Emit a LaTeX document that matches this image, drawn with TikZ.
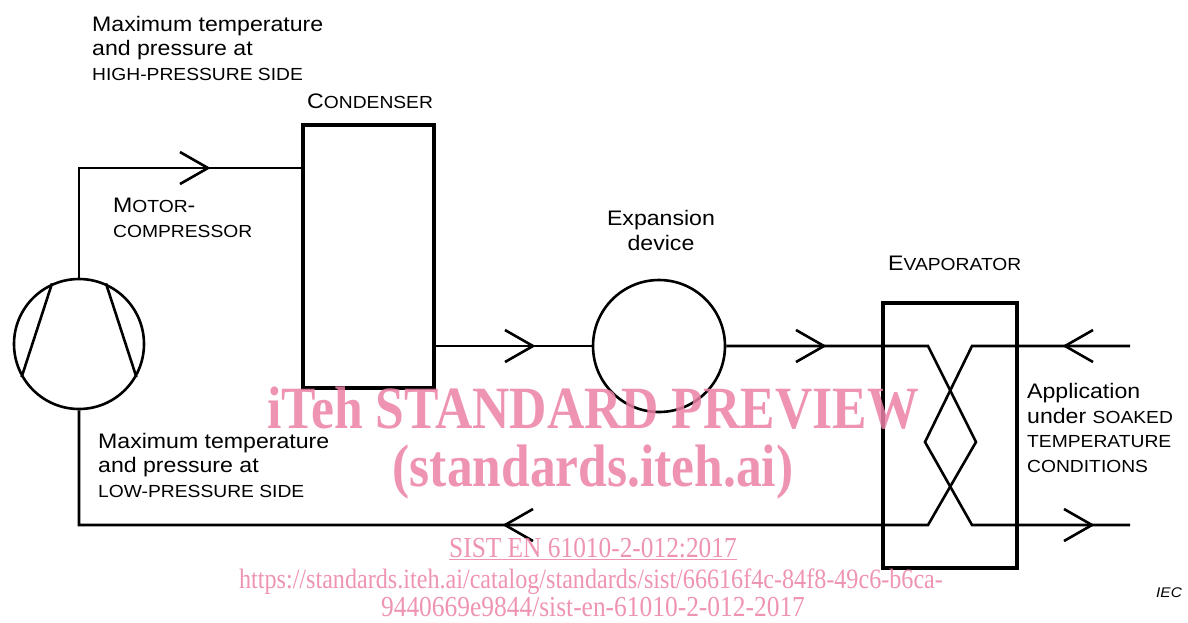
\documentclass[tikz,border=0pt]{standalone}
\usepackage{fontspec}
\setmainfont[FakeStretch=1.1]{Liberation Sans}
\newfontfamily\wmfont{Liberation Serif}
\usetikzlibrary{calc}
\definecolor{wmpink}{RGB}{236,128,166}
\newcommand\smc[1]{{\fontsize{17.5}{24.5}\selectfont #1}}
\tikzset{
  pipe/.style={line width=2.6pt, line cap=butt, line join=miter},
  thick box/.style={draw, line width=4.5pt, inner sep=0pt},
  round part/.style={draw, circle, line width=2.6pt, inner sep=0pt},
  label text/.style={anchor=base west, inner sep=0pt, align=left,
    font=\fontsize{21}{24.5}\selectfont},
  wm/.style={text=wmpink, text opacity=0.85, inner sep=0pt, anchor=base},
}
\newcommand\arrR[1]{\draw[pipe] ($(#1)+(-28,-16)$) -- (#1) -- ($(#1)+(-28,16)$);}
\newcommand\arrL[1]{\draw[pipe] ($(#1)+(28,-16)$) -- (#1) -- ($(#1)+(28,16)$);}
\begin{document}
\begin{tikzpicture}[x=1pt,y=-1pt]
\useasboundingbox (0,0) rectangle (1188,622);
% components
\node[round part, minimum size=130pt] (comp) at (79,344) {};
\node[thick box, minimum width=131pt, minimum height=263pt] (cond) at (368.5,256.5) {};
\node[round part, minimum size=132pt] (exp) at (659,346) {};
\node[thick box, minimum width=134pt, minimum height=265pt] (evap) at (950,435.5) {};
% compressor inner lines
\draw[pipe] (comp.114) -- (comp.210);
\draw[pipe] (comp.66) -- (comp.330);
% coordinates
\coordinate (tl) at (79,168);
\coordinate (ul) at (928,346);
\coordinate (ur) at (972,346);
\coordinate (ll) at (928,525);
\coordinate (lr) at (972,525);
\coordinate (mr) at (976,442);
\coordinate (ml) at (925,442);
\coordinate (inR) at (1130,346);
\coordinate (outR) at (1130,525);
\coordinate (bl) at (79,525);
% connectors
\draw[pipe] (comp.north) -- (tl) -- (cond.west |- tl);
\draw[pipe] (cond.east |- exp.west) -- (exp.west);
\draw[pipe] (exp.east) -- (ul) -- (mr) -- (ll) -- (bl) -- (comp.south);
\draw[pipe] (inR) -- (ur) -- (ml) -- (lr) -- (outR);
% arrowheads
\coordinate (a1) at (208,168); \arrR{a1}
\coordinate (a2) at (533,346); \arrR{a2}
\coordinate (a3) at (824,346); \arrR{a3}
\coordinate (a4) at (1065,346); \arrL{a4}
\coordinate (a5) at (1092,525); \arrR{a5}
\coordinate (a6) at (505,525); \arrL{a6}
% labels (base = baseline of last line)
\node[label text] (t1) at (92,80) {Maximum temperature\\and pressure at\\\smc{HIGH-PRESSURE SIDE}};
\node[label text] (t2) at (307,108) {C\smc{ONDENSER}};
\node[label text] (t3) at (113,237) {M\smc{OTOR}-\\\smc{COMPRESSOR}};
\node[label text, anchor=base, align=center] (t4) at (661,250) {Expansion\\device};
\node[label text] (t5) at (888,270) {E\smc{VAPORATOR}};
\node[label text] (t6) at (1027,472) {Application\\under \smc{SOAKED}\\\smc{TEMPERATURE}\\\smc{CONDITIONS}};
\node[label text] (t7) at (98,497) {Maximum temperature\\and pressure at\\\smc{LOW-PRESSURE SIDE}};
\node[anchor=base west, inner sep=0pt, font=\fontsize{14}{16}\itshape] (iec) at (1156,597) {IEC};
% watermark
\node[wm, font=\wmfont\bfseries\fontsize{60}{60}\selectfont] (w1) at (593,428) {\scalebox{0.861}[1]{iTeh STANDARD PREVIEW}};
\node[wm, font=\wmfont\bfseries\fontsize{60}{60}\selectfont] (w2) at (593,486) {\scalebox{0.858}[1]{(standards.iteh.ai)}};
\node[wm, font=\wmfont\fontsize{29}{30}\selectfont] (w3) at (593,557) {\scalebox{0.875}[1]{\underline{SIST EN 61010-2-012:2017}}};
\node[wm, font=\wmfont\fontsize{28}{30}\selectfont] (w4) at (591,588) {\scalebox{0.862}[1]{https://standards.iteh.ai/catalog/standards/sist/66616f4c-84f8-49c6-b6ca-}};
\node[wm, font=\wmfont\fontsize{29}{30}\selectfont] (w5) at (593,616) {\scalebox{0.877}[1]{9440669e9844/sist-en-61010-2-012-2017}};
\end{tikzpicture}
\end{document}
